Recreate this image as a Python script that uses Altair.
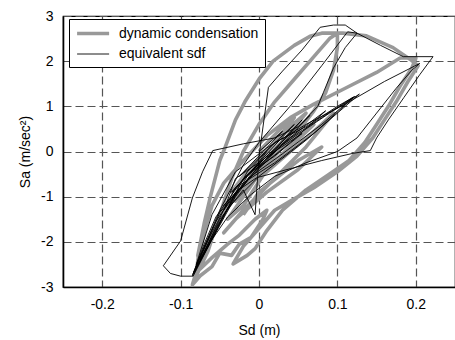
import altair as alt
import pandas as pd

series_names = ["dynamic condensation", "equivalent sdf"]

# dynamic condensation (thick gray)
dc_sd = [0.000, 0.030, 0.045, 0.020, -0.020, -0.035, -0.010, 0.040, 0.060, 0.030,
         -0.030, -0.050, -0.065, -0.078, -0.085, -0.075, -0.060, -0.050, -0.035, -0.025,
         -0.010, 0.005, 0.010, -0.005, -0.025, -0.040, -0.060, -0.075,
         -0.078, -0.070, -0.062, -0.050, -0.043, -0.030, -0.018, 0.000, 0.018, 0.045,
         0.065, 0.080, 0.107, 0.137, 0.171, 0.192, 0.203,
         0.190, 0.175, 0.160, 0.145, 0.125, 0.100, 0.070, 0.040, 0.020, 0.000,
         -0.020, -0.033, -0.015, -0.005,
         0.010, 0.030, 0.060, 0.090, 0.115, 0.135, 0.150, 0.165, 0.180, 0.195, 0.200, 0.180,
         0.150, 0.110, 0.070, 0.040, 0.010, -0.020, -0.045, -0.060, -0.070, -0.078, -0.080,
         -0.065, -0.050, -0.035, -0.020, 0.000, 0.020, 0.045, 0.070, 0.090, 0.100,
         0.100, 0.095, 0.085, 0.070, 0.050, 0.025, 0.000, -0.020, -0.040,
         -0.020, 0.010, 0.050, 0.070, 0.040, -0.010, -0.030, 0.000, 0.030, 0.010, -0.010,
         0.000, 0.040, 0.080, 0.095, 0.060, 0.020, -0.020, -0.045, -0.030, 0.010,
         0.050, 0.080, 0.050, 0.000, -0.020]
dc_sa = [0.00, 0.55, 0.75, 0.20, -0.55, -0.90, -0.40, 0.55, 0.85, 0.20,
         -1.00, -1.50, -2.00, -2.55, -2.95, -2.75, -2.55, -2.25, -2.30, -2.05,
         -1.90, -1.50, -1.30, -1.50, -1.85, -2.05, -2.35, -2.60,
         -2.30, -1.60, -1.00, -0.20, 0.10, 0.70, 1.10, 1.60, 2.00, 2.35,
         2.55, 2.62, 2.62, 2.56, 2.30, 2.05, 1.90,
         1.55, 1.10, 0.70, 0.30, -0.10, -0.45, -0.80, -1.10, -1.30, -1.70,
         -2.10, -2.49, -2.30, -2.15,
         -1.75, -1.30, -0.85, -0.50, -0.20, 0.20, 0.60, 1.00, 1.45, 1.85, 2.07, 2.07,
         1.75, 1.40, 1.05, 0.75, 0.35, -0.20, -0.70, -1.20, -1.80, -2.40, -2.75,
         -2.20, -1.40, -0.60, 0.00, 0.60, 1.10, 1.60, 2.10, 2.50, 2.62,
         2.30, 1.80, 1.30, 0.90, 0.45, 0.00, -0.50, -1.00, -1.50,
         -1.20, -0.40, 0.30, 0.60, 0.10, -0.70, -1.10, -0.40, 0.10, -0.20, -0.60,
         -0.60, 0.00, 0.60, 0.85, 0.10, -0.60, -1.30, -1.80, -1.50, -0.90,
         -0.40, 0.10, -0.20, -0.90, -1.40]

# equivalent sdf (thin black)
es_sd = [0.000, 0.030, -0.025, 0.045, -0.035, 0.055, -0.045, 0.065, -0.020, -0.055,
         -0.070, -0.085, -0.060, -0.030, 0.000, 0.040, 0.080, 0.120, 0.080, 0.030,
         -0.010, -0.050, -0.082, -0.055, -0.015, 0.030, 0.090, 0.128, 0.060, 0.000,
         -0.040, -0.075, -0.050, -0.020, -0.005, 0.000, 0.012, 0.030, 0.055, 0.078,
         0.095, 0.110, 0.125, 0.110, 0.095, 0.082, 0.075, 0.050, 0.020, -0.020,
         -0.059, -0.072, -0.085, -0.100, -0.122, -0.113, -0.100, -0.084, -0.060, -0.035,
         -0.015, 0.020, 0.060, 0.100, 0.122, 0.070, 0.020, -0.025, -0.065, -0.084,
         -0.050, -0.020, 0.000, 0.042, 0.080, 0.113, 0.125, 0.155, 0.184, 0.222,
         0.205, 0.185, 0.165, 0.150, 0.142, 0.120, 0.080, 0.040, -0.003, -0.030,
         -0.055, -0.070, -0.084, -0.062, -0.040, -0.010, 0.020, 0.060, 0.100, 0.125,
         0.150, 0.175, 0.195, 0.205, 0.160, 0.110, 0.060, 0.010, -0.030, -0.060,
         -0.080, -0.060, -0.030, 0.010, 0.050, 0.085, 0.040, -0.010, -0.045, -0.030,
         0.020, 0.055, 0.020, -0.010, 0.010]
es_sa = [0.00, 0.45, -0.55, 0.60, -0.90, 0.70, -1.20, 0.80, -0.60, -1.45,
         -2.05, -2.75, -1.95, -1.00, -0.30, 0.30, 0.75, 1.20, 0.60, -0.05,
         -0.55, -1.35, -2.65, -1.70, -0.55, 0.15, 0.85, 1.27, 0.25, -0.55,
         -1.25, -2.40, -1.50, -0.85, -1.40, -0.10, 1.42, 1.78, 2.25, 2.75,
         2.80, 2.80, 2.62, 2.30, 1.85, 1.30, 1.00, 0.55, 0.30, 0.17,
         0.02, -0.45, -1.03, -1.98, -2.53, -2.70, -2.76, -2.76, -1.95, -1.10,
         -0.45, 0.20, 0.55, 1.00, 1.22, 0.40, -0.25, -0.75, -2.10, -2.70,
         -1.30, -0.30, 0.20, 1.05, 1.90, 2.65, 2.62, 2.35, 2.10, 2.10,
         1.70, 1.20, 0.70, 0.30, 0.02, -0.04, -0.20, -0.38, -0.58, -0.90,
         -1.55, -2.10, -2.72, -2.00, -1.45, -0.95, -0.55, -0.25, 0.00, 0.30,
         0.85, 1.40, 1.80, 1.95, 1.55, 1.05, 0.60, 0.08, -0.45, -1.40,
         -2.50, -1.80, -0.80, -0.10, 0.45, 0.90, 0.20, -0.50, -1.30, -0.60,
         0.00, 0.40, -0.10, -0.45, 0.00]

x_ticks = [-0.2, -0.1, 0, 0.1, 0.2]
y_ticks = [-3, -2, -1, 0, 1, 2, 3]

df_dc = pd.DataFrame({"sd": dc_sd, "sa": dc_sa, "series": series_names[0],
                      "i": range(len(dc_sd))})
df_es = pd.DataFrame({"sd": es_sd, "sa": es_sa, "series": series_names[1],
                      "i": range(len(es_sd))})

x_enc = alt.X("sd:Q", scale=alt.Scale(domain=[-0.25, 0.25], nice=False, zero=False),
              axis=alt.Axis(values=x_ticks, title="Sd (m)",
                            labelExpr="datum.value == 0 ? '0' : (datum.value < 0 ? '-' + format(-datum.value, '.1f') : format(datum.value, '.1f'))"))
y_enc = alt.Y("sa:Q", scale=alt.Scale(domain=[-3, 3], nice=False, zero=False),
              axis=alt.Axis(values=y_ticks, title="Sa (m/sec²)",
                            labelExpr="datum.value < 0 ? '-' + format(-datum.value, 'd') : format(datum.value, 'd')"))

legend_props = dict(title=None, orient="none", legendX=6, legendY=3,
                    symbolType="M-1,0H4", symbolSize=164, labelOffset=27,
                    labelFontSize=14, labelFont="Liberation Sans",
                    labelColor="black", rowPadding=6,
                    padding=6, strokeColor="black", fillColor="white")

color_enc = alt.Color("series:N",
                      scale=alt.Scale(domain=series_names, range=["#999999", "#000000"]),
                      legend=alt.Legend(**legend_props))
sw_enc = alt.StrokeWidth("series:N",
                         scale=alt.Scale(domain=series_names, range=[3.6, 0.9]),
                         legend=alt.Legend(**legend_props))

gray = alt.Chart(df_dc).mark_line(clip=True, strokeJoin="round").encode(
    x=x_enc, y=y_enc, color=color_enc, strokeWidth=sw_enc, order="i:Q")
black = alt.Chart(df_es).mark_line(clip=True, strokeJoin="round").encode(
    x=x_enc, y=y_enc, color=color_enc, strokeWidth=sw_enc, order="i:Q")

chart = alt.layer(gray, black).properties(
    width=392, height=271,
    autosize=alt.AutoSizeParams(type="none"),
    padding={"left": 63, "top": 16, "right": 0, "bottom": 53},
    background="white",
).configure(font="Liberation Sans").configure_view(
    stroke="black", strokeWidth=1.2
).configure_axis(
    grid=True, gridColor="#555555", gridDash=[8, 4], gridWidth=1.2, gridOpacity=1,
    domain=True, domainColor="black", domainWidth=1.6,
    ticks=False, labelFontSize=14, labelColor="black", labelFont="Liberation Sans",
    titleFontSize=14, titleFontWeight="normal", titleColor="black", titleFont="Liberation Sans",
).configure_axisX(labelPadding=10, titlePadding=12).configure_axisY(labelPadding=10, titlePadding=8)

chart.save("out.html", embed_options={"renderer": "svg", "actions": False})
